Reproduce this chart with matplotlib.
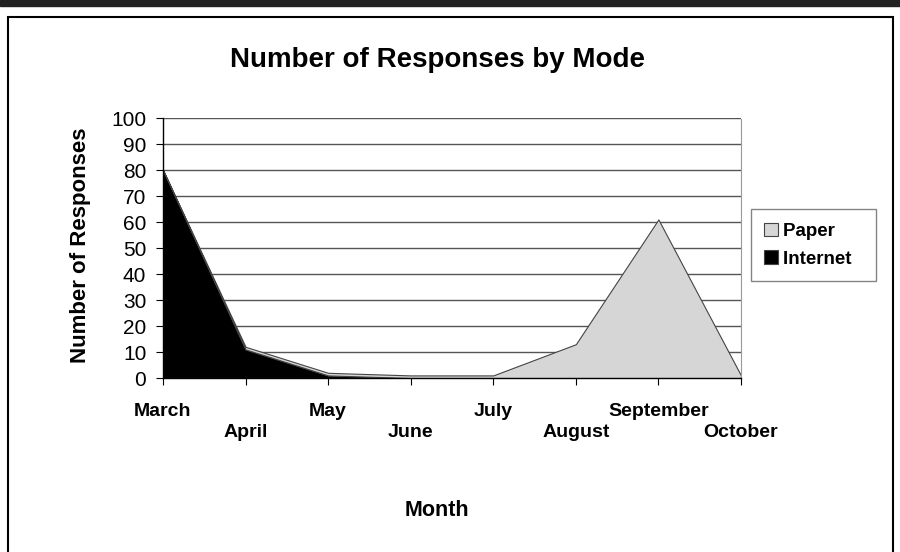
import matplotlib
matplotlib.use("Agg")
import matplotlib.pyplot as plt
from matplotlib.patches import Rectangle

# datos
meses = ["March", "April", "May", "June", "July", "August", "September", "October"]
internet = [80, 11, 1, 0, 0, 0, 0, 0]
paper = [0, 1, 1, 1, 1, 13, 61, 1]

plt.rcParams['font.family'] = ['Liberation Sans', 'DejaVu Sans']

fig = plt.figure(figsize=(9, 5.52), dpi=100)
ax = fig.add_axes([0.1811, 0.3152, 0.6422, 0.471])

x = list(range(len(meses)))
polys = ax.stackplot(x, internet, paper, colors=["black", "#d6d6d6"],
                     labels=["Internet", "Paper"], edgecolor="#444444", linewidth=0.8)

ax.set_xlim(0, len(meses) - 1)
ax.set_ylim(0, 100)
ax.set_yticks(range(0, 101, 10))
ax.grid(axis='y', color='#555555', linewidth=1)
ax.set_axisbelow(True)

# etiquetas escalonadas en dos filas
etiquetas = [m if i % 2 == 0 else "\n" + m for i, m in enumerate(meses)]
ax.set_xticks(x)
ax.set_xticklabels(etiquetas, fontweight='bold', fontsize=14, linespacing=1.32)
ax.tick_params(axis='x', length=5, pad=13, direction='out')
ax.tick_params(axis='y', length=5, pad=7, labelsize=15)

ax.spines['top'].set_visible(False)
ax.spines['right'].set_color('#999999')
ax.spines['right'].set_linestyle((0, (1, 1)))
ax.spines['left'].set_linewidth(1)
ax.spines['bottom'].set_linewidth(1)

fig.text(0.486, 0.891, "Number of Responses by Mode", ha='center', va='center',
         fontsize=20, fontweight='bold')
fig.text(0.089, 0.556, "Number of Responses", ha='center', va='center',
         rotation=90, fontsize=16, fontweight='bold')
fig.text(0.486, 0.076, "Month", ha='center', va='center',
         fontsize=15.5, fontweight='bold')

handles, labels = ax.get_legend_handles_labels()
leg = fig.legend(handles[::-1], [l + "  " for l in labels[::-1]], loc='center left',
                 bbox_to_anchor=(0.834, 0.556), frameon=True, fancybox=False,
                 prop={'weight': 'bold', 'size': 13.5}, handlelength=0.75,
                 handleheight=0.75, handletextpad=0.3, labelspacing=0.55,
                 borderpad=0.7, borderaxespad=0, edgecolor='#666666')
leg.get_frame().set_linewidth(1)

# marco exterior y barra superior
fig.patches.append(Rectangle((8 / 900, -0.05), 885 / 900, 1 - 17 / 552 + 0.05,
                             transform=fig.transFigure, fill=False,
                             edgecolor='black', linewidth=1.5))
fig.patches.append(Rectangle((0, 1 - 6 / 552), 1, 6 / 552,
                             transform=fig.transFigure, color='#222222'))

fig.savefig("out.png", dpi=100)
